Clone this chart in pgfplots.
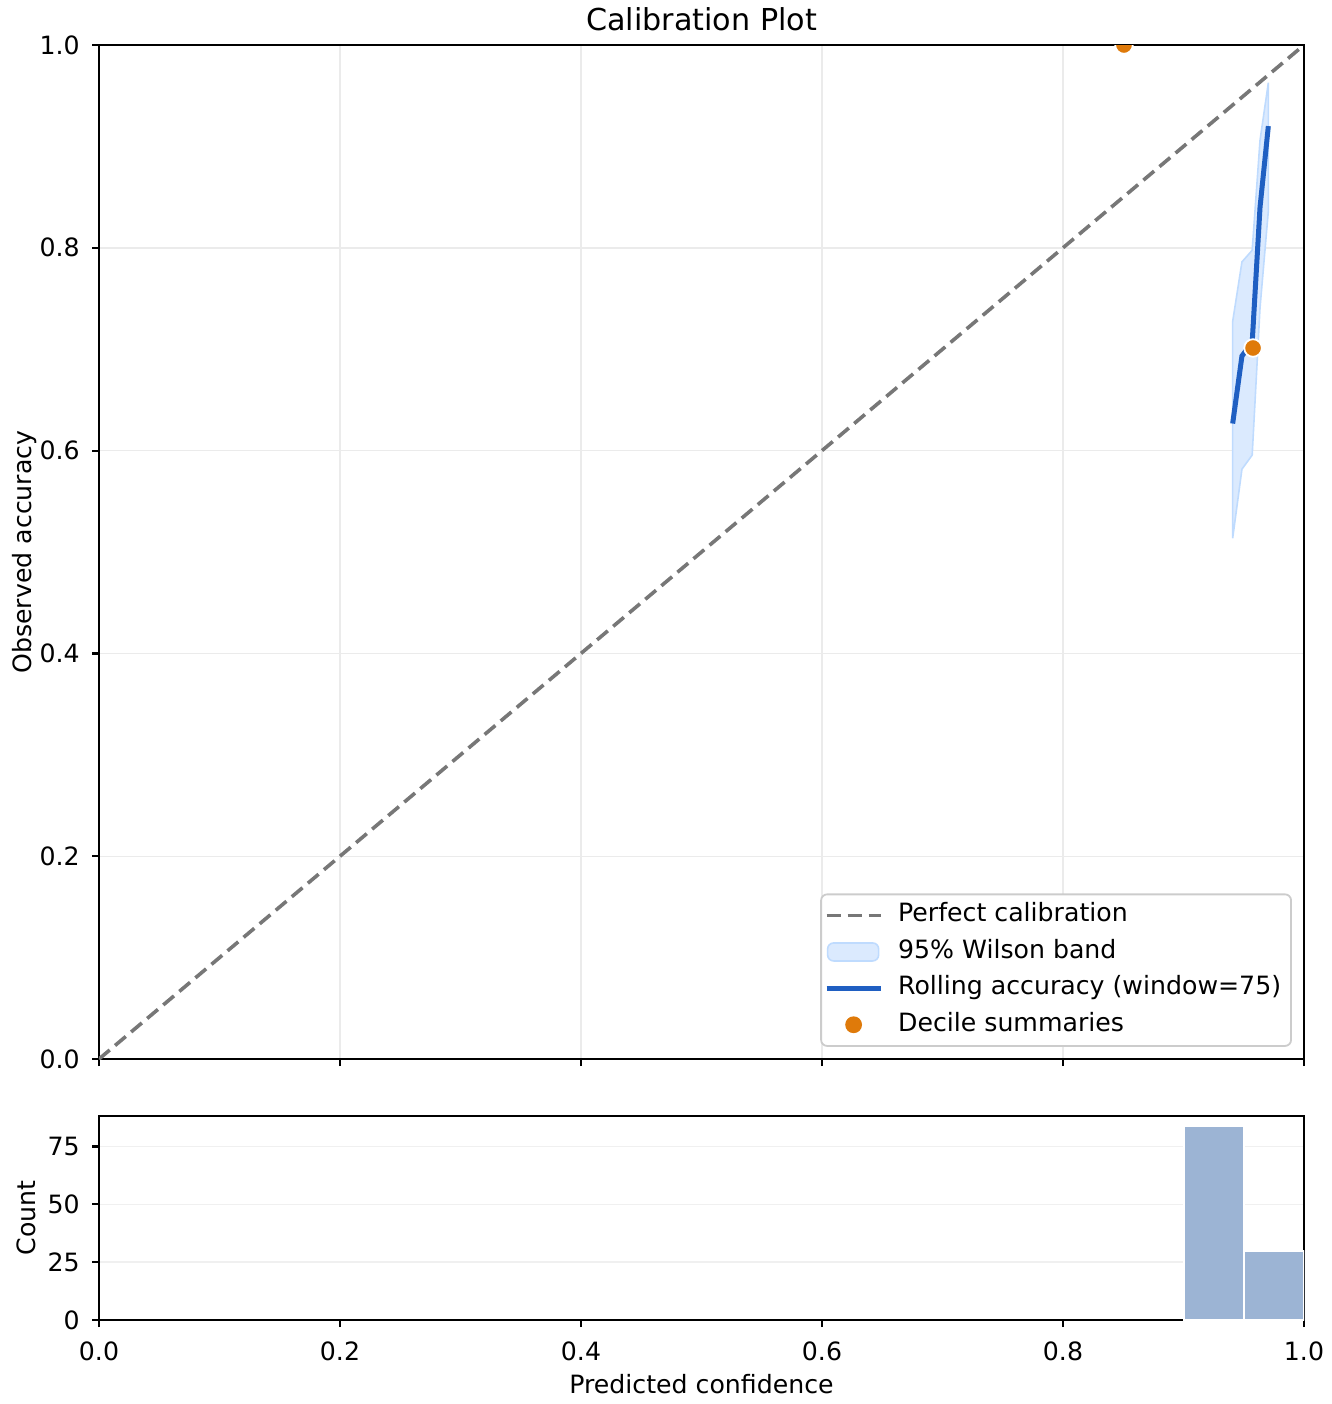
\documentclass[border=0pt]{standalone}
\usepackage{fontspec}
\setmainfont{DejaVu Sans}
\usepackage{pgfplots}
\pgfplotsset{compat=1.18}
\definecolor{diagc}{HTML}{777777}
\definecolor{bandfill}{HTML}{DBEAFE}
\definecolor{bandedge}{HTML}{BFDBFE}
\definecolor{linec}{HTML}{1F5FC2}
\definecolor{dotc}{HTML}{DF7A0A}
\definecolor{histc}{HTML}{9CB4D4}
\definecolor{gridc}{HTML}{EBEBEB}
\pgfplotsset{
  bandlegend/.style={legend image code/.code={\draw[##1] (0.5pt,-4.5pt) rectangle (26pt,4.5pt);}},
  dotlegend/.style={legend image code/.code={\draw[##1, mark size=3.75pt, mark options={fill=dotc, draw=dotc}] plot coordinates {(13.5pt,0pt)};}},
  linelegend/.style={legend image code/.code={\draw[##1] (0pt,0pt) -- (27pt,0pt);}},
}
\begin{document}
\begin{tikzpicture}
\path[use as bounding box] (0pt,0pt) rectangle (666pt,-702pt);
\pgfplotsset{
  every axis/.append style={
    scale only axis, width=602.5pt,
    font=\fontsize{12.6}{15}\selectfont,
    /pgf/number format/assume math mode=true,
    axis line style={line width=1.3pt},
    tick style={line width=1.1pt, black},
    tick align=outside, major tick length=3.5pt,
    xtick pos=bottom, ytick pos=left,
    grid style={gridc, line width=0.7pt},
    xmin=0, xmax=1, xtick={0,0.2,0.4,0.6,0.8,1.0},
    yticklabel style={anchor=east, inner sep=0pt, xshift=-6pt},
    xticklabel style={anchor=north, inner sep=0pt, yshift=-7pt},
    every axis title shift=0pt,
  },
}
\begin{axis}[
  at={(49.5pt,-22.5pt)}, anchor=north west,
  height=507pt,
  ymin=0, ymax=1, ytick={0,0.2,0.4,0.6,0.8,1.0},
  xmajorgrids, ymajorgrids,
  xticklabels={},
  yticklabel style={/pgf/number format/.cd, fixed, fixed zerofill, precision=1},
  title={Calibration Plot},
  title style={at={(axis description cs:0.5,1)}, anchor=base, yshift=7.5pt, font=\fontsize{15.1}{18}\selectfont},
  ylabel={Observed accuracy},
  ylabel style={at={(axis description cs:-0.0556,0.5)}, anchor=base},
  clip marker paths=true,
  legend style={at={(0.990,0.012)}, anchor=south east, draw=black!20, rounded corners=3pt,
    fill=white, inner sep=1.5pt, line width=0.9pt,
    nodes={inner ysep=3.0pt, inner xsep=3.5pt, text height=9.3pt, text depth=2.9pt, anchor=west},
    /tikz/every odd column/.append style={column sep=4pt},
    font=\fontsize{12.6}{15}\selectfont},
  legend cell align=left,
  linelegend,
]
\addplot[diagc, line width=1.8pt, dash pattern=on 7pt off 3.5pt] coordinates {(0,0) (1,1)};
\addlegendentry{Perfect calibration}
\addplot[fill=bandfill, draw=bandedge, line width=0.8pt, bandlegend]
  coordinates {(0.9408,0.7274) (0.9485,0.7861) (0.9570,0.7976) (0.9635,0.9060) (0.9704,0.9628)
               (0.9704,0.8362) (0.9635,0.7408) (0.9570,0.5956) (0.9485,0.5817) (0.9408,0.5136)} -- cycle;
\addlegendentry{95\% Wilson band}
\addplot[linec, line width=2.5pt] coordinates {(0.9408,0.6267) (0.9485,0.6933) (0.9570,0.7067) (0.9635,0.8400) (0.9704,0.9200)};
\addlegendentry{Rolling accuracy (window=75)}
\addplot[only marks, mark=*, mark size=4.4pt, mark options={fill=dotc, draw=white, line width=0.9pt}, dotlegend]
  coordinates {(0.8506,1.0) (0.9577,0.7012)};
\addlegendentry{Decile summaries}
\end{axis}
\begin{axis}[
  at={(49.5pt,-558pt)}, anchor=north west,
  height=102pt,
  ymin=0, ymax=88.2, ytick={0,25,50,75},
  ymajorgrids,
  grid style={black!6, line width=0.7pt},
  xticklabel style={/pgf/number format/.cd, fixed, fixed zerofill, precision=1},
  xlabel={Predicted confidence},
  xlabel style={at={(axis description cs:0.5,0)}, anchor=base, yshift=-36.5pt},
  ylabel={Count},
  ylabel style={at={(axis description cs:-0.0531,0.5)}, anchor=base},
]
\addplot[ybar interval, fill=histc, draw=white, line width=1pt] coordinates {(0.90,84) (0.95,30) (1.00,30)};
\end{axis}
\end{tikzpicture}
\end{document}
